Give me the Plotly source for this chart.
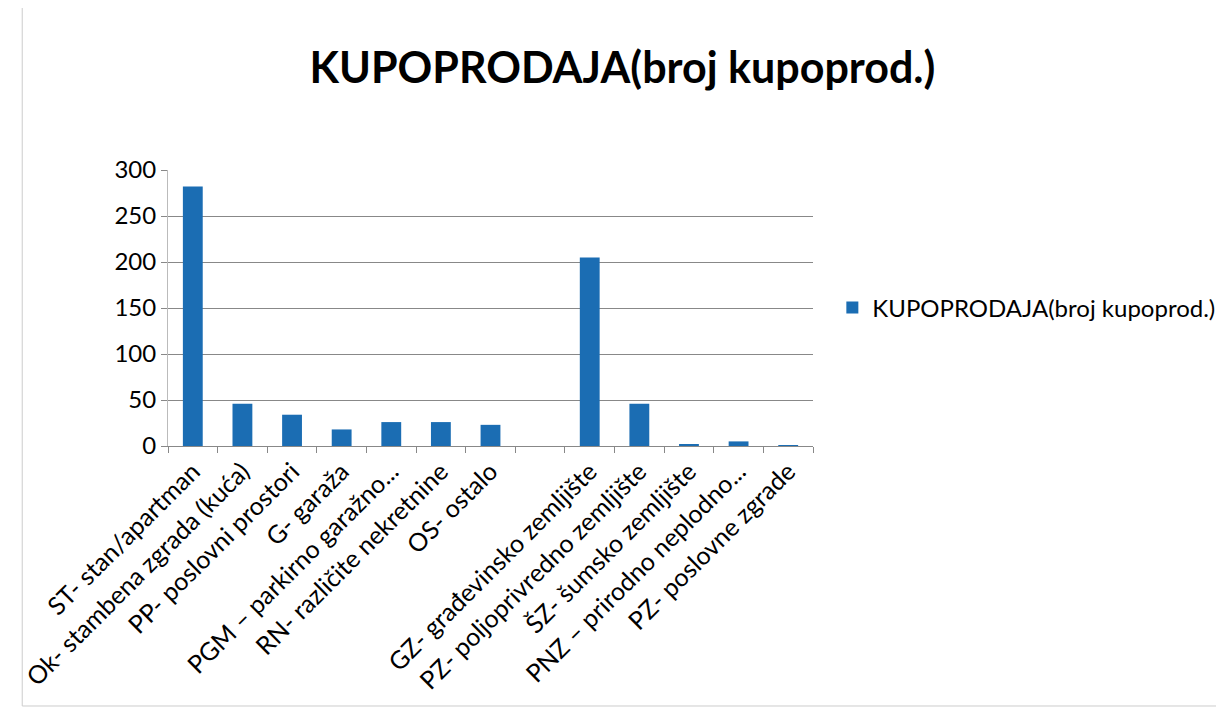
import plotly.graph_objects as go

kategorije = [
    "ST- stan/apartman",
    "Ok- stambena zgrada (kuća)",
    "PP- poslovni prostori",
    "G- garaža",
    "PGM – parkirno garažno...",
    "RN- različite nekretnine",
    "OS- ostalo",
    " ",
    "GZ- građevinsko zemljište",
    "PZ- poljoprivredno zemljište",
    "ŠZ- šumsko zemljište",
    "PNZ – prirodno neplodno...",
    "PZ- poslovne zgrade",
]
broj_kupoprodaja = [282, 46, 34, 18, 26, 26, 23, None, 205, 46, 2, 5, 1]
y_tickovi = [0, 50, 100, 150, 200, 250, 300]

naslov = "KUPOPRODAJA(broj kupoprod.)"
font = "Lato, 'Open Sans', sans-serif"

fig = go.Figure()
fig.add_trace(go.Bar(
    x=kategorije,
    y=broj_kupoprodaja,
    name=naslov,
    marker_color="#1b6db3",
    marker_line_width=0,
    showlegend=True,
))

fig.update_layout(
    width=1224, height=707,
    paper_bgcolor="white", plot_bgcolor="white",
    font=dict(family=font, color="black", size=24),
    title=dict(text="<b>" + naslov + "</b>", x=0.502, xanchor="center",
               y=0.915, yanchor="middle", font=dict(size=43)),
    margin=dict(l=155, r=419, t=162, b=269),
    bargap=0.6,
    legend=dict(x=1.03, xanchor="left", y=0.5, yanchor="middle",
                font=dict(size=24), itemwidth=30),
    xaxis=dict(type="category", tickangle=-45, ticks="outside",
               tickson="boundaries", ticklen=6, tickcolor="#888",
               showline=True, linecolor="#888", linewidth=1,
               showgrid=False, tickfont=dict(size=25)),
    yaxis=dict(range=[0, 300], tickvals=y_tickovi, ticks="outside",
               ticklen=6, tickcolor="#888", showline=True,
               linecolor="#bbb", gridcolor="#888", gridwidth=1,
               zeroline=False, tickfont=dict(size=24)),
    shapes=[dict(type="rect", xref="paper", yref="paper",
                 x0=-0.226, x1=1.64, y0=-0.942, y1=1.605,
                 line=dict(color="#ccc", width=1))],
)

fig.write_html("out.html")
